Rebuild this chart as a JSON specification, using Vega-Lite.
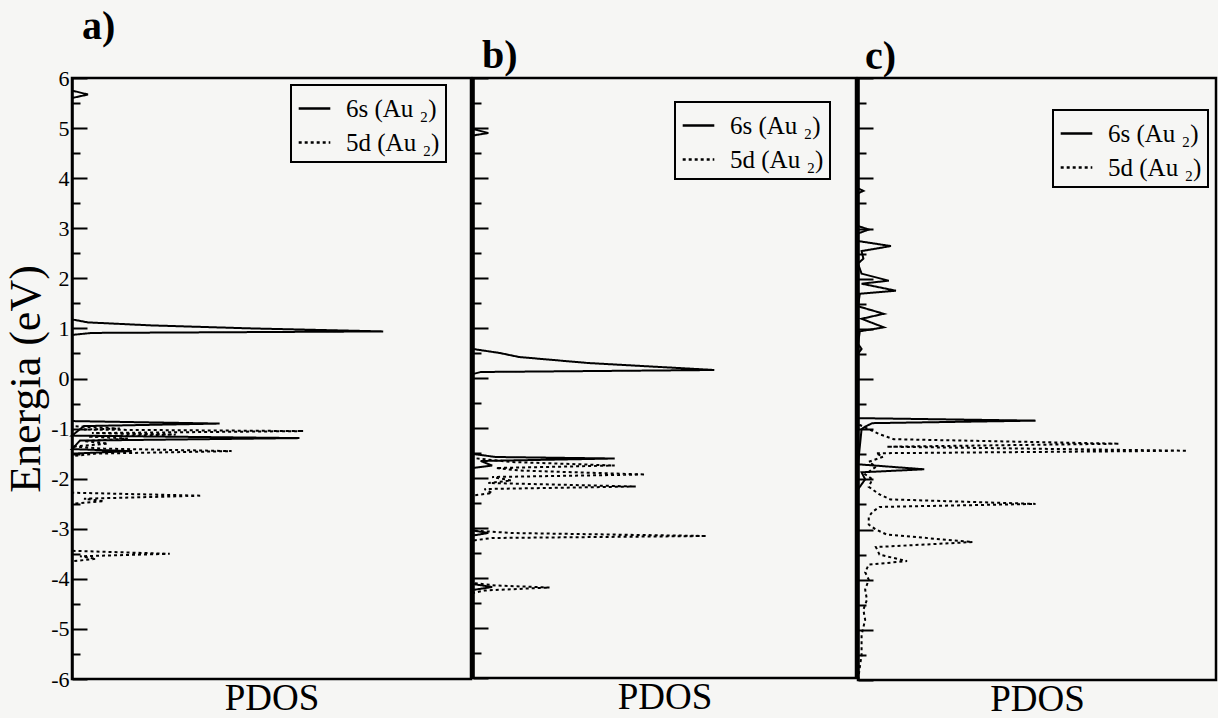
{
  "$schema": "https://vega.github.io/schema/vega-lite/v6.json",
  "background": "#f6f6f4",
  "padding": {"top": 5, "left": 3, "right": 0, "bottom": 0},
  "spacing": -6,
  "datasets": {
    "pdos": [
      {"p":"a","s":"6s (Au ₂)","E":6,"d":0},{"p":"a","s":"6s (Au ₂)","E":5.75,"d":0},{"p":"a","s":"6s (Au ₂)","E":5.67,"d":0.4},{"p":"a","s":"6s (Au ₂)","E":5.6,"d":0},
      {"p":"a","s":"6s (Au ₂)","E":1.18,"d":0},{"p":"a","s":"6s (Au ₂)","E":1.12,"d":0.4},{"p":"a","s":"6s (Au ₂)","E":1.06,"d":2.0},{"p":"a","s":"6s (Au ₂)","E":1.0,"d":4.5},{"p":"a","s":"6s (Au ₂)","E":0.94,"d":7.8},{"p":"a","s":"6s (Au ₂)","E":0.91,"d":0.5},{"p":"a","s":"6s (Au ₂)","E":0.87,"d":0},
      {"p":"a","s":"6s (Au ₂)","E":-0.85,"d":0},{"p":"a","s":"6s (Au ₂)","E":-0.9,"d":3.7},{"p":"a","s":"6s (Au ₂)","E":-0.95,"d":0.3},{"p":"a","s":"6s (Au ₂)","E":-1.14,"d":0},{"p":"a","s":"6s (Au ₂)","E":-1.19,"d":5.7},{"p":"a","s":"6s (Au ₂)","E":-1.24,"d":0.2},{"p":"a","s":"6s (Au ₂)","E":-1.41,"d":0},{"p":"a","s":"6s (Au ₂)","E":-1.45,"d":1.5},{"p":"a","s":"6s (Au ₂)","E":-1.5,"d":0},{"p":"a","s":"6s (Au ₂)","E":-6,"d":0},

      {"p":"a","s":"5d (Au ₂)","E":6,"d":0},{"p":"a","s":"5d (Au ₂)","E":-0.95,"d":0},{"p":"a","s":"5d (Au ₂)","E":-1.0,"d":1.2},{"p":"a","s":"5d (Au ₂)","E":-1.02,"d":0.3},{"p":"a","s":"5d (Au ₂)","E":-1.05,"d":5.8},{"p":"a","s":"5d (Au ₂)","E":-1.09,"d":0.5},{"p":"a","s":"5d (Au ₂)","E":-1.12,"d":2.6},{"p":"a","s":"5d (Au ₂)","E":-1.16,"d":0.4},{"p":"a","s":"5d (Au ₂)","E":-1.2,"d":1.4},{"p":"a","s":"5d (Au ₂)","E":-1.25,"d":0.3},{"p":"a","s":"5d (Au ₂)","E":-1.3,"d":0.9},{"p":"a","s":"5d (Au ₂)","E":-1.36,"d":0},{"p":"a","s":"5d (Au ₂)","E":-1.4,"d":0.8},{"p":"a","s":"5d (Au ₂)","E":-1.45,"d":4.0},{"p":"a","s":"5d (Au ₂)","E":-1.5,"d":0.6},{"p":"a","s":"5d (Au ₂)","E":-1.55,"d":0},
      {"p":"a","s":"5d (Au ₂)","E":-2.28,"d":0},{"p":"a","s":"5d (Au ₂)","E":-2.34,"d":3.25},{"p":"a","s":"5d (Au ₂)","E":-2.4,"d":0.3},{"p":"a","s":"5d (Au ₂)","E":-2.45,"d":0.8},{"p":"a","s":"5d (Au ₂)","E":-2.5,"d":0},
      {"p":"a","s":"5d (Au ₂)","E":-3.44,"d":0},{"p":"a","s":"5d (Au ₂)","E":-3.5,"d":2.45},{"p":"a","s":"5d (Au ₂)","E":-3.55,"d":0.2},{"p":"a","s":"5d (Au ₂)","E":-3.6,"d":0.6},{"p":"a","s":"5d (Au ₂)","E":-3.65,"d":0},{"p":"a","s":"5d (Au ₂)","E":-6,"d":0},

      {"p":"b","s":"6s (Au ₂)","E":6,"d":0},{"p":"b","s":"6s (Au ₂)","E":4.98,"d":0},{"p":"b","s":"6s (Au ₂)","E":4.9,"d":0.4},{"p":"b","s":"6s (Au ₂)","E":4.85,"d":0},
      {"p":"b","s":"6s (Au ₂)","E":0.58,"d":0},{"p":"b","s":"6s (Au ₂)","E":0.5,"d":0.7},{"p":"b","s":"6s (Au ₂)","E":0.42,"d":1.2},{"p":"b","s":"6s (Au ₂)","E":0.3,"d":3.0},{"p":"b","s":"6s (Au ₂)","E":0.16,"d":6.3},{"p":"b","s":"6s (Au ₂)","E":0.12,"d":0.2},{"p":"b","s":"6s (Au ₂)","E":0.08,"d":0},
      {"p":"b","s":"6s (Au ₂)","E":-1.52,"d":0},{"p":"b","s":"6s (Au ₂)","E":-1.58,"d":0.6},{"p":"b","s":"6s (Au ₂)","E":-1.61,"d":3.7},{"p":"b","s":"6s (Au ₂)","E":-1.66,"d":0.2},{"p":"b","s":"6s (Au ₂)","E":-1.75,"d":0.5},{"p":"b","s":"6s (Au ₂)","E":-1.8,"d":0},
      {"p":"b","s":"6s (Au ₂)","E":-3.05,"d":0},{"p":"b","s":"6s (Au ₂)","E":-3.1,"d":0.4},{"p":"b","s":"6s (Au ₂)","E":-3.15,"d":0},{"p":"b","s":"6s (Au ₂)","E":-4.12,"d":0},{"p":"b","s":"6s (Au ₂)","E":-4.18,"d":0.5},{"p":"b","s":"6s (Au ₂)","E":-4.24,"d":0},{"p":"b","s":"6s (Au ₂)","E":-6,"d":0},

      {"p":"b","s":"5d (Au ₂)","E":6,"d":0},{"p":"b","s":"5d (Au ₂)","E":-1.6,"d":0},{"p":"b","s":"5d (Au ₂)","E":-1.68,"d":1.0},{"p":"b","s":"5d (Au ₂)","E":-1.75,"d":3.7},{"p":"b","s":"5d (Au ₂)","E":-1.8,"d":0.6},{"p":"b","s":"5d (Au ₂)","E":-1.85,"d":1.2},{"p":"b","s":"5d (Au ₂)","E":-1.93,"d":4.5},{"p":"b","s":"5d (Au ₂)","E":-1.98,"d":0.5},{"p":"b","s":"5d (Au ₂)","E":-2.05,"d":1.0},{"p":"b","s":"5d (Au ₂)","E":-2.1,"d":0.4},{"p":"b","s":"5d (Au ₂)","E":-2.17,"d":4.25},{"p":"b","s":"5d (Au ₂)","E":-2.22,"d":0.3},{"p":"b","s":"5d (Au ₂)","E":-2.3,"d":0.5},{"p":"b","s":"5d (Au ₂)","E":-2.35,"d":0},
      {"p":"b","s":"5d (Au ₂)","E":-3.05,"d":0},{"p":"b","s":"5d (Au ₂)","E":-3.1,"d":1.0},{"p":"b","s":"5d (Au ₂)","E":-3.16,"d":6.1},{"p":"b","s":"5d (Au ₂)","E":-3.2,"d":0.5},{"p":"b","s":"5d (Au ₂)","E":-3.25,"d":0},
      {"p":"b","s":"5d (Au ₂)","E":-4.1,"d":0},{"p":"b","s":"5d (Au ₂)","E":-4.15,"d":0.6},{"p":"b","s":"5d (Au ₂)","E":-4.19,"d":2.0},{"p":"b","s":"5d (Au ₂)","E":-4.25,"d":0.3},{"p":"b","s":"5d (Au ₂)","E":-4.3,"d":0},{"p":"b","s":"5d (Au ₂)","E":-6,"d":0},

      {"p":"c","s":"6s (Au ₂)","E":6,"d":0},{"p":"c","s":"6s (Au ₂)","E":3.8,"d":0},{"p":"c","s":"6s (Au ₂)","E":3.75,"d":0.15},{"p":"c","s":"6s (Au ₂)","E":3.7,"d":0},{"p":"c","s":"6s (Au ₂)","E":3.05,"d":0},{"p":"c","s":"6s (Au ₂)","E":2.98,"d":0.3},{"p":"c","s":"6s (Au ₂)","E":2.9,"d":0},
      {"p":"c","s":"6s (Au ₂)","E":2.75,"d":0},{"p":"c","s":"6s (Au ₂)","E":2.65,"d":0.92},{"p":"c","s":"6s (Au ₂)","E":2.55,"d":0.1},{"p":"c","s":"6s (Au ₂)","E":2.4,"d":0.15},{"p":"c","s":"6s (Au ₂)","E":2.3,"d":0},{"p":"c","s":"6s (Au ₂)","E":2.1,"d":0.1},{"p":"c","s":"6s (Au ₂)","E":1.96,"d":0.86},{"p":"c","s":"6s (Au ₂)","E":1.9,"d":0.1},{"p":"c","s":"6s (Au ₂)","E":1.76,"d":1.06},{"p":"c","s":"6s (Au ₂)","E":1.7,"d":0.05},
      {"p":"c","s":"6s (Au ₂)","E":1.45,"d":0},{"p":"c","s":"6s (Au ₂)","E":1.3,"d":0.72},{"p":"c","s":"6s (Au ₂)","E":1.2,"d":0.1},{"p":"c","s":"6s (Au ₂)","E":1.03,"d":0.72},{"p":"c","s":"6s (Au ₂)","E":0.95,"d":0.05},{"p":"c","s":"6s (Au ₂)","E":0.7,"d":0},{"p":"c","s":"6s (Au ₂)","E":0.6,"d":0.1},{"p":"c","s":"6s (Au ₂)","E":0.5,"d":0},
      {"p":"c","s":"6s (Au ₂)","E":-0.78,"d":0},{"p":"c","s":"6s (Au ₂)","E":-0.83,"d":4.96},{"p":"c","s":"6s (Au ₂)","E":-0.88,"d":0.4},{"p":"c","s":"6s (Au ₂)","E":-0.95,"d":0.2},{"p":"c","s":"6s (Au ₂)","E":-1.0,"d":0.1},{"p":"c","s":"6s (Au ₂)","E":-1.7,"d":0},{"p":"c","s":"6s (Au ₂)","E":-1.8,"d":1.85},{"p":"c","s":"6s (Au ₂)","E":-1.86,"d":0.1},{"p":"c","s":"6s (Au ₂)","E":-2.0,"d":0.2},{"p":"c","s":"6s (Au ₂)","E":-2.2,"d":0},{"p":"c","s":"6s (Au ₂)","E":-6,"d":0},

      {"p":"c","s":"5d (Au ₂)","E":6,"d":0},{"p":"c","s":"5d (Au ₂)","E":-0.9,"d":0},{"p":"c","s":"5d (Au ₂)","E":-1.0,"d":0.3},{"p":"c","s":"5d (Au ₂)","E":-1.1,"d":0.6},{"p":"c","s":"5d (Au ₂)","E":-1.2,"d":1.0},{"p":"c","s":"5d (Au ₂)","E":-1.29,"d":7.3},{"p":"c","s":"5d (Au ₂)","E":-1.35,"d":0.8},{"p":"c","s":"5d (Au ₂)","E":-1.43,"d":9.2},{"p":"c","s":"5d (Au ₂)","E":-1.48,"d":0.5},{"p":"c","s":"5d (Au ₂)","E":-1.55,"d":0.7},{"p":"c","s":"5d (Au ₂)","E":-1.65,"d":0.3},{"p":"c","s":"5d (Au ₂)","E":-1.75,"d":0.5},{"p":"c","s":"5d (Au ₂)","E":-1.9,"d":0.2},{"p":"c","s":"5d (Au ₂)","E":-2.0,"d":0.4},{"p":"c","s":"5d (Au ₂)","E":-2.15,"d":0.3},{"p":"c","s":"5d (Au ₂)","E":-2.3,"d":0.6},{"p":"c","s":"5d (Au ₂)","E":-2.4,"d":0.9},{"p":"c","s":"5d (Au ₂)","E":-2.49,"d":4.96},{"p":"c","s":"5d (Au ₂)","E":-2.55,"d":0.6},{"p":"c","s":"5d (Au ₂)","E":-2.65,"d":0.4},{"p":"c","s":"5d (Au ₂)","E":-2.75,"d":0.3},{"p":"c","s":"5d (Au ₂)","E":-2.9,"d":0.3},{"p":"c","s":"5d (Au ₂)","E":-3.0,"d":0.5},{"p":"c","s":"5d (Au ₂)","E":-3.1,"d":0.8},{"p":"c","s":"5d (Au ₂)","E":-3.25,"d":3.2},{"p":"c","s":"5d (Au ₂)","E":-3.35,"d":0.5},{"p":"c","s":"5d (Au ₂)","E":-3.5,"d":0.6},{"p":"c","s":"5d (Au ₂)","E":-3.63,"d":1.37},{"p":"c","s":"5d (Au ₂)","E":-3.7,"d":0.3},{"p":"c","s":"5d (Au ₂)","E":-3.85,"d":0.2},{"p":"c","s":"5d (Au ₂)","E":-4.0,"d":0.3},{"p":"c","s":"5d (Au ₂)","E":-4.2,"d":0.2},{"p":"c","s":"5d (Au ₂)","E":-4.4,"d":0.25},{"p":"c","s":"5d (Au ₂)","E":-4.6,"d":0.15},{"p":"c","s":"5d (Au ₂)","E":-4.8,"d":0.2},{"p":"c","s":"5d (Au ₂)","E":-5.1,"d":0.1},{"p":"c","s":"5d (Au ₂)","E":-5.5,"d":0.1},{"p":"c","s":"5d (Au ₂)","E":-6,"d":0}
    ]
  },
  "data": {"name": "pdos"},
  "resolve": {"legend": {"strokeDash": "independent"}, "scale": {"y": "independent", "x": "independent"}},
  "hconcat": [
    {
      "width": 399, "height": 601,
      "title": {"text": "a)", "font": "Liberation Serif", "fontSize": 40, "fontWeight": "bold", "anchor": "start", "frame": "group", "offset": 20, "dx": 10, "color": "black"},
      "transform": [{"filter": "datum.p === 'a'"}],
      "mark": {"type": "line", "color": "black", "strokeWidth": 2},
      "encoding": {
        "x": {"field": "d", "type": "quantitative", "scale": {"domain": [0, 10], "nice": false}, "axis": {"title": "PDOS", "ticks": false, "labels": false, "grid": false, "domain": false, "titlePadding": 1}},
        "y": {"field": "E", "type": "quantitative", "scale": {"domain": [-6, 6], "nice": false, "zero": false},
          "axis": {"title": "Energia (eV)", "titleFontSize": 44, "grid": false, "values": [-6,-5.5,-5,-4.5,-4,-3.5,-3,-2.5,-2,-1.5,-1,-0.5,0,0.5,1,1.5,2,2.5,3,3.5,4,4.5,5,5.5,6],
            "labelExpr": "datum.value % 1 === 0 ? '' + datum.value : ''",
            "tickSize": {"condition": {"test": "datum.value % 1 === 0", "value": -15}, "value": -8},
            "labelPadding": 18, "titlePadding": 2}},
        "strokeDash": {"field": "s", "type": "nominal", "scale": {"domain": ["6s (Au ₂)", "5d (Au ₂)"], "range": [[1, 0], [3, 3]]},
          "legend": {"orient": "none", "legendX": 219, "legendY": 7, "title": null}},
        "order": {"field": "E", "type": "quantitative"}
      }
    },
    {
      "width": 383, "height": 600,
      "title": {"text": "b)", "font": "Liberation Serif", "fontSize": 40, "fontWeight": "bold", "anchor": "start", "frame": "group", "offset": -2, "dx": 9, "color": "black"},
      "transform": [{"filter": "datum.p === 'b'"}],
      "mark": {"type": "line", "color": "black", "strokeWidth": 2},
      "encoding": {
        "x": {"field": "d", "type": "quantitative", "scale": {"domain": [0, 10], "nice": false}, "axis": {"title": "PDOS", "ticks": false, "labels": false, "grid": false, "domain": false, "titlePadding": 1}},
        "y": {"field": "E", "type": "quantitative", "scale": {"domain": [-6, 6], "nice": false, "zero": false},
          "axis": {"title": null, "labels": false, "grid": false, "minExtent": 0, "maxExtent": 0, "labelPadding": 0, "values": [-6,-5.5,-5,-4.5,-4,-3.5,-3,-2.5,-2,-1.5,-1,-0.5,0,0.5,1,1.5,2,2.5,3,3.5,4,4.5,5,5.5,6],
            "tickSize": {"condition": {"test": "datum.value % 1 === 0", "value": -15}, "value": -8}}},
        "strokeDash": {"field": "s", "type": "nominal", "scale": {"domain": ["6s (Au ₂)", "5d (Au ₂)"], "range": [[1, 0], [3, 3]]},
          "legend": {"orient": "none", "legendX": 202, "legendY": 24, "title": null}},
        "order": {"field": "E", "type": "quantitative"}
      }
    },
    {
      "width": 358, "height": 602,
      "title": {"text": "c)", "font": "Liberation Serif", "fontSize": 40, "fontWeight": "bold", "anchor": "start", "frame": "group", "offset": -3, "dx": 7, "color": "black"},
      "transform": [{"filter": "datum.p === 'c'"}],
      "mark": {"type": "line", "color": "black", "strokeWidth": 2},
      "encoding": {
        "x": {"field": "d", "type": "quantitative", "scale": {"domain": [0, 10], "nice": false}, "axis": {"title": "PDOS", "ticks": false, "labels": false, "grid": false, "domain": false, "titlePadding": 1}},
        "y": {"field": "E", "type": "quantitative", "scale": {"domain": [-6, 6], "nice": false, "zero": false},
          "axis": {"title": null, "labels": false, "grid": false, "minExtent": 0, "maxExtent": 0, "labelPadding": 0, "values": [-6,-5.5,-5,-4.5,-4,-3.5,-3,-2.5,-2,-1.5,-1,-0.5,0,0.5,1,1.5,2,2.5,3,3.5,4,4.5,5,5.5,6],
            "tickSize": {"condition": {"test": "datum.value % 1 === 0", "value": -15}, "value": -8}}},
        "strokeDash": {"field": "s", "type": "nominal", "scale": {"domain": ["6s (Au ₂)", "5d (Au ₂)"], "range": [[1, 0], [3, 3]]},
          "legend": {"orient": "none", "legendX": 195, "legendY": 32, "title": null}},
        "order": {"field": "E", "type": "quantitative"}
      }
    }
  ],
  "config": {
    "view": {"stroke": "black", "strokeWidth": 2.5, "fill": "#f6f6f4"},
    "axis": {"domainColor": "black", "domainWidth": 2.5, "tickColor": "black", "tickWidth": 2, "labelFont": "Liberation Serif", "labelFontSize": 22, "labelColor": "black", "titleFont": "Liberation Serif", "titleFontSize": 37, "titleFontWeight": "normal", "titleColor": "black"},
    "legend": {"strokeColor": "black", "strokeWidth": 2, "padding": 6, "labelFont": "Liberation Serif", "labelFontSize": 25, "labelColor": "black", "symbolType": "stroke", "symbolSize": 1000, "symbolStrokeWidth": 2.5, "symbolStrokeColor": "black", "rowPadding": 3, "labelOffset": 14}
  }
}
